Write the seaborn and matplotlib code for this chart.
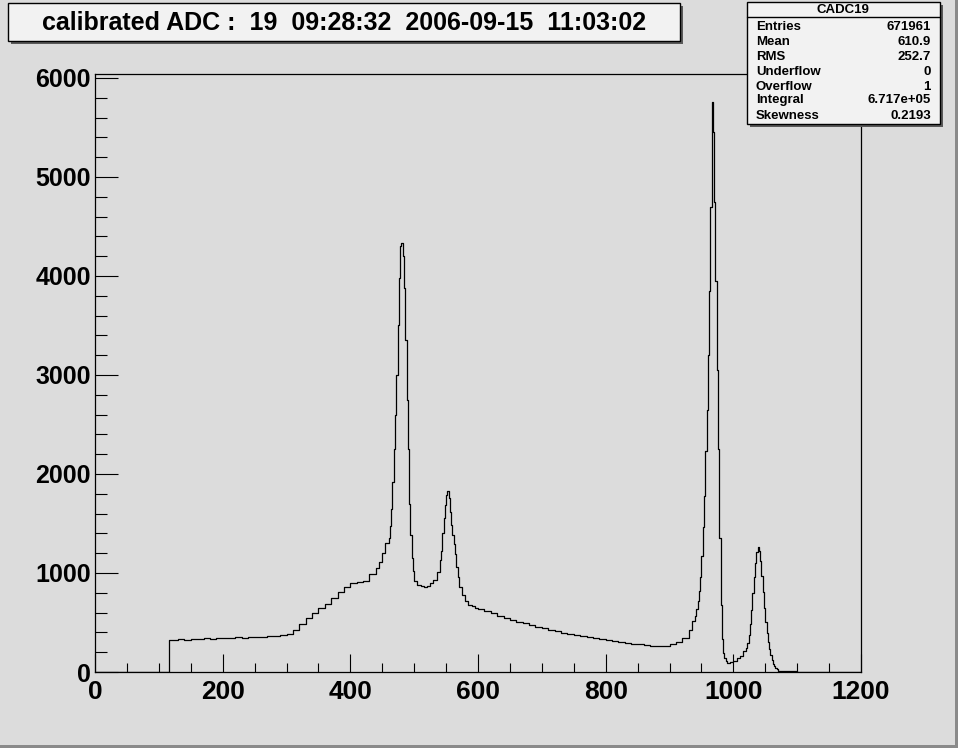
import numpy as np
import pandas as pd
import matplotlib
matplotlib.use("Agg")
import matplotlib.pyplot as plt
from matplotlib.patches import Rectangle
from matplotlib.lines import Line2D
from matplotlib.ticker import MultipleLocator
import seaborn as sns

# bin layout of the histogram: (low edge, high edge, bin width)
segments = [(0, 116, 116), (116, 120, 4), (120, 440, 10), (440, 460, 5),
            (460, 500, 2), (500, 540, 5), (540, 570, 2), (570, 600, 5),
            (600, 930, 10), (930, 940, 5), (940, 990, 2), (990, 1020, 5),
            (1020, 1070, 2), (1070, 1200, 10)]

# counts per bin
c_start = [0, 320]
c_flat = [325, 330, 325, 335, 330, 340, 335, 345, 345, 340, 350, 345, 350, 355,
          350, 360, 360, 370, 385, 420, 480, 545, 600, 645, 690, 750, 810, 860,
          895, 905, 920, 985]
c_rise = [1050, 1110, 1200, 1300]
c_peak1 = [1350, 1470, 1650, 1920, 2250, 2600, 3000, 3500, 3980, 4300,
           4330, 4200, 3880, 3350, 2750, 2250, 1700, 1380, 1150, 1020]
c_valley = [920, 880, 870, 860, 870, 900, 930, 1010]
c_peak2 = [1130, 1220, 1400, 1560, 1690, 1790, 1830, 1760, 1620, 1480,
           1380, 1290, 1190, 1060, 960]
c_fall = [860, 780, 720, 680, 665, 650]
c_tail = [640, 615, 595, 570, 545, 525, 510, 495, 475, 455, 440, 425, 410, 395,
          385, 375, 365, 355, 345, 330, 320, 310, 300, 295, 285, 280, 272, 265,
          258, 262, 280, 305, 345]
c_rise2 = [420, 520]
c_peak3 = [570, 640, 720, 820, 960, 1170, 1460, 1780, 2230, 2650, 3200, 3850,
           4700, 5760, 5450, 4750, 3950, 3050, 2250, 1350, 680, 330, 190, 140, 110]
c_dip = [95, 100, 115, 140, 165, 210]
c_peak4 = [240, 290, 370, 480, 630, 800, 960, 1100, 1210, 1260, 1220, 1120, 970,
           810, 650, 500, 390, 300, 230, 170, 120, 85, 60, 40, 30]
c_end = [15, 8, 6, 5, 4, 4, 3, 3, 2, 2, 2, 1, 1]

title = "calibrated ADC :  19  09:28:32  2006-09-15  11:03:02"
stats_name = "CADC19"
stats_rows = [("Entries", "671961"), ("Mean", "610.9"), ("RMS", "252.7"),
              ("Underflow", "0"), ("Overflow", "1"), ("Integral", "6.717e+05"),
              ("Skewness", "0.2193")]

counts = (c_start + c_flat + c_rise + c_peak1 + c_valley + c_peak2 + c_fall
          + c_tail + c_rise2 + c_peak3 + c_dip + c_peak4 + c_end)
edges = np.concatenate([np.arange(lo, hi, w) for lo, hi, w in segments] + [[1200]])
df = pd.DataFrame({"adc": (edges[:-1] + edges[1:]) / 2, "counts": counts})

sns.set_style("ticks")
plt.rcParams["font.family"] = ["Liberation Sans", "DejaVu Sans"]
plt.rcParams["font.weight"] = "bold"
plt.rcParams["text.color"] = "black"
plt.rcParams["xtick.color"] = "black"
plt.rcParams["ytick.color"] = "black"

W, H = 958, 748
bg = "#dcdcdc"
fig = plt.figure(figsize=(W / 100, H / 100), dpi=100, facecolor=bg)


def fx(px):
    return px / W


def fy(py):
    return 1 - py / H


ax = fig.add_axes([fx(95), fy(672), fx(861) - fx(95), fy(74) - fy(672)])
ax.set_facecolor(bg)

sns.histplot(data=df, x="adc", weights="counts", bins=[float(e) for e in edges],
             element="step", fill=False, color="black", linewidth=0.9, ax=ax)

ax.set_xlim(0, 1200)
ax.set_ylim(0, 6040)
ax.set_xlabel("")
ax.set_ylabel("")
ax.xaxis.set_major_locator(MultipleLocator(200))
ax.xaxis.set_minor_locator(MultipleLocator(50))
ax.yaxis.set_major_locator(MultipleLocator(1000))
ax.yaxis.set_minor_locator(MultipleLocator(200))
ax.tick_params(which="both", bottom=True, left=True, top=False, right=False,
               direction="in", color="black", labelcolor="black", width=0.8)
ax.tick_params(axis="x", which="major", length=13, labelsize=19, pad=6)
ax.tick_params(axis="x", which="minor", length=6.5)
ax.tick_params(axis="y", which="major", length=16.5, labelsize=18, pad=3)
ax.tick_params(axis="y", which="minor", length=8.6)
for lab in ax.get_xticklabels() + ax.get_yticklabels():
    lab.set_fontweight("bold")
for sp in ax.spines.values():
    sp.set_visible(True)
    sp.set_color("black")
    sp.set_linewidth(0.9)

# canvas bevel
fig.add_artist(Rectangle((0, 0), 1, fy(745), transform=fig.transFigure,
                         color="#8a8a8a", lw=0))
fig.add_artist(Rectangle((fx(955), 0), 1 - fx(955), 1, transform=fig.transFigure,
                         color="#8a8a8a", lw=0))

# title box with shadow
fig.add_artist(Rectangle((fx(11), fy(44)), fx(672), 38 / H, transform=fig.transFigure,
                         facecolor="#5a5a5a", lw=0))
fig.add_artist(Rectangle((fx(8), fy(41)), fx(672), 38 / H, transform=fig.transFigure,
                         facecolor="#f2f2f2", edgecolor="black", lw=1.0))
fig.text(fx(344), fy(23), title, ha="center", va="center", fontsize=18,
         fontweight="bold", color="black")

# stats box with shadow
fig.add_artist(Rectangle((fx(750), fy(127)), fx(193), 122 / H, transform=fig.transFigure,
                         facecolor="#5a5a5a", lw=0))
fig.add_artist(Rectangle((fx(747), fy(124)), fx(193), 122 / H, transform=fig.transFigure,
                         facecolor="#f2f2f2", edgecolor="black", lw=1.0))
fig.add_artist(Line2D([fx(747), fx(940)], [fy(17), fy(17)], transform=fig.transFigure,
                      color="black", lw=1.0))
fig.text(fx(843), fy(10), stats_name, ha="center", va="center", fontsize=9.5,
         fontweight="bold", color="black")
row_y = [27, 42, 57, 72, 87, 100, 116]
for (name, val), ry in zip(stats_rows, row_y):
    fig.text(fx(756), fy(ry), name, ha="left", va="center", fontsize=9.5,
             fontweight="bold", color="black")
    fig.text(fx(931), fy(ry), val, ha="right", va="center", fontsize=9.5,
             fontweight="bold", color="black")

fig.savefig("out.png", dpi=100, facecolor=bg)
